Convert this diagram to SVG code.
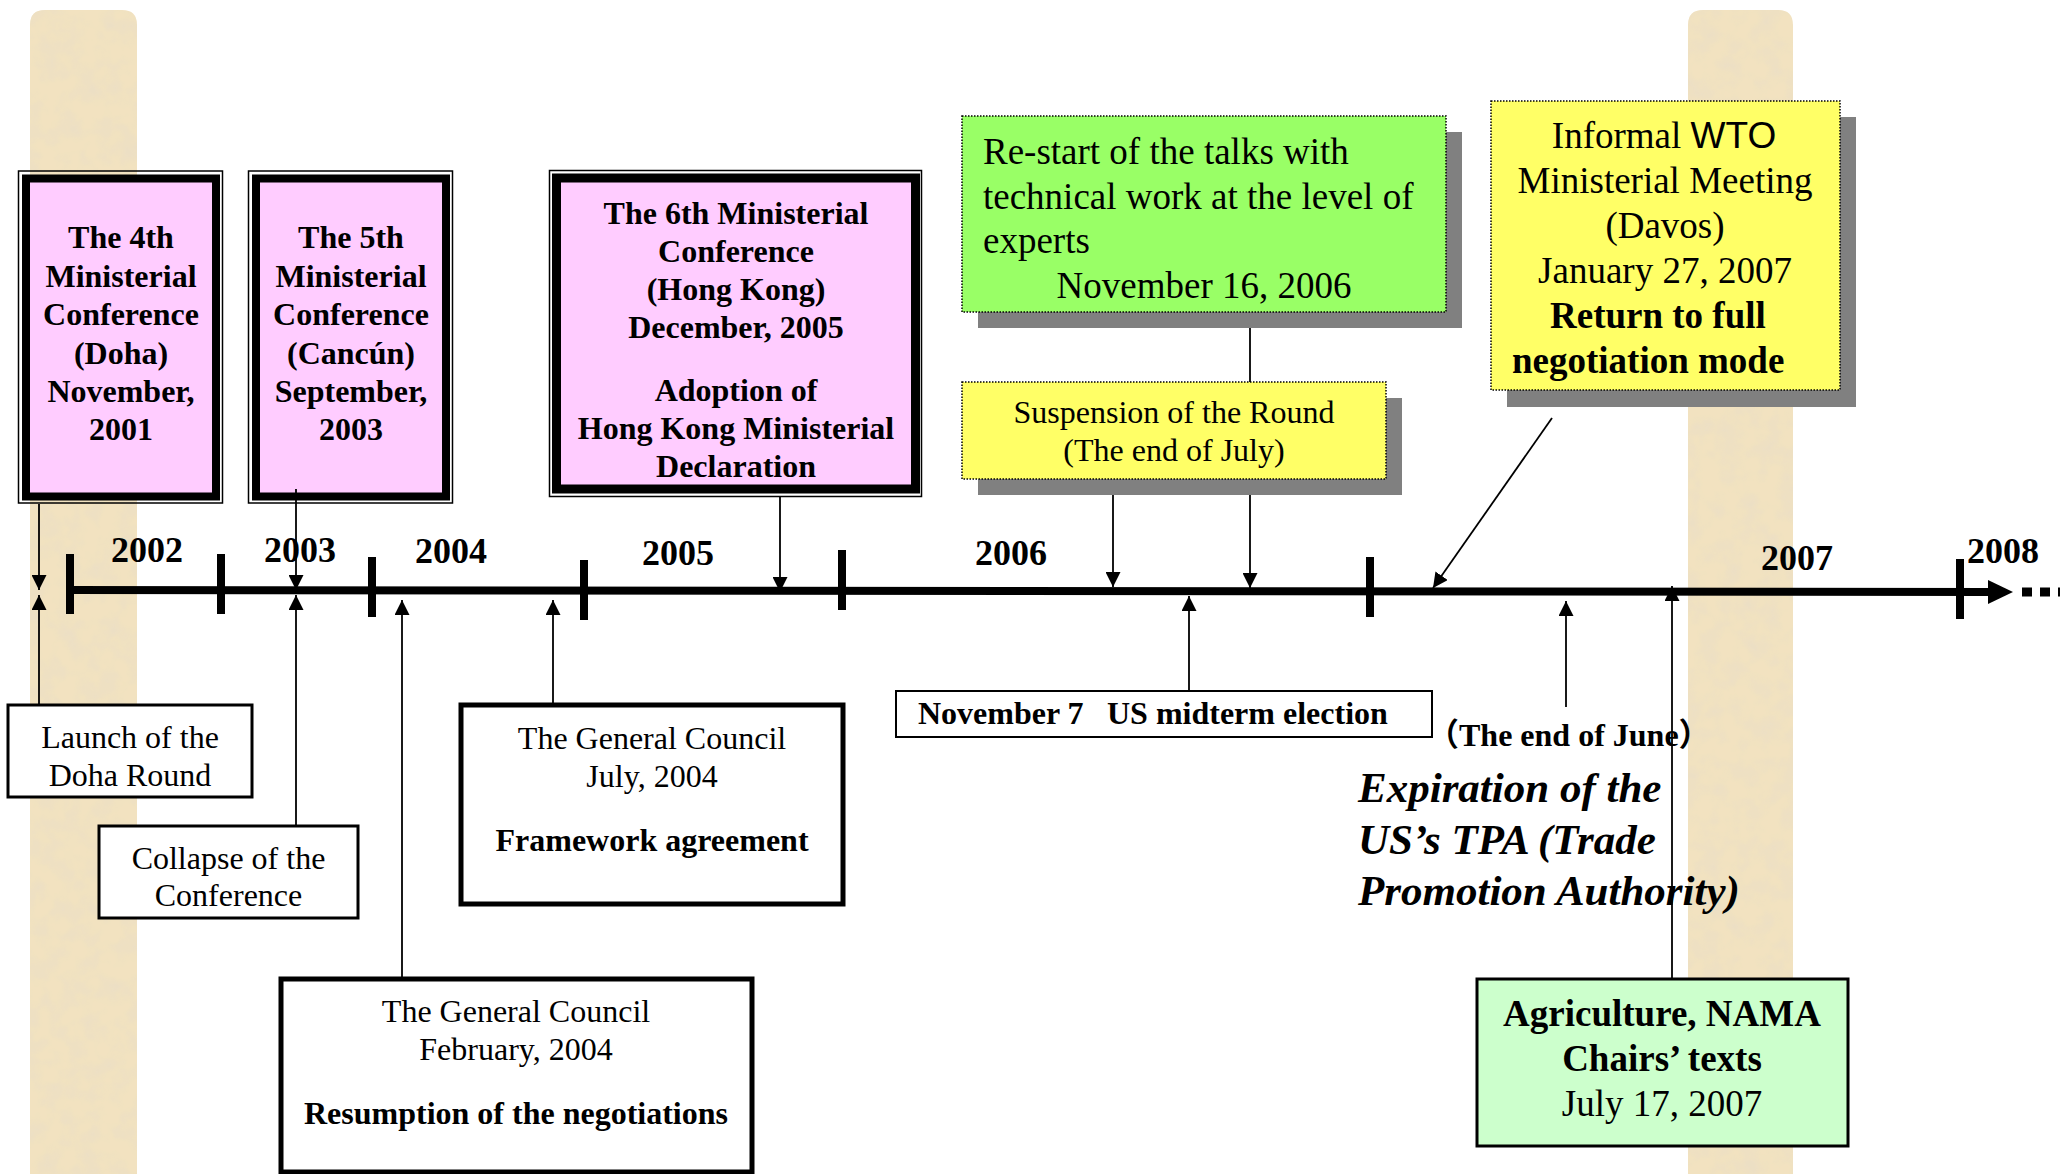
<svg xmlns="http://www.w3.org/2000/svg" width="2060" height="1174" viewBox="0 0 2060 1174">
<defs>
<style>
.serif{font-family:"Liberation Serif","Times New Roman",serif;fill:#000}
.sans{font-family:"Liberation Sans",Arial,sans-serif}
.b{font-weight:bold}
.mid{text-anchor:middle}
.f32{font-size:32px}
.f36{font-size:36px}
.f37{font-size:37px}
.f43{font-size:43px}
.pinkfill{fill:#FFCCFF;stroke:#000;stroke-width:8}
.thin{fill:none;stroke:#000;stroke-width:1.5}
.dotted{stroke:#000;stroke-width:1.5;stroke-dasharray:1.5 1.5}
.shadow{fill:#808080}
.wbox{fill:#fff;stroke:#000}
.conn{stroke:#000;stroke-width:1.8;fill:none}
.tick{stroke:#000;stroke-width:8}
</style>
<marker id="ah" viewBox="0 0 10 10" refX="10" refY="5" markerWidth="15" markerHeight="15" markerUnits="userSpaceOnUse" orient="auto">
<path d="M0,0 L10,5 L0,10 z" fill="#000"/>
</marker>
<filter id="paper" x="0" y="0" width="100%" height="100%">
<feTurbulence type="fractalNoise" baseFrequency="0.05" numOctaves="3" seed="7" result="n"/>
<feColorMatrix in="n" type="matrix" values="0 0 0 0 0.84  0 0 0 0 0.74  0 0 0 0 0.55  0 0 0 2.2 -0.85" result="c"/>
<feComposite in="c" in2="SourceGraphic" operator="in" result="t"/>
<feMerge><feMergeNode in="SourceGraphic"/><feMergeNode in="t"/></feMerge>
</filter>
</defs>
<rect x="0" y="0" width="2060" height="1174" fill="#fff"/>
<g id="columns">
<path d="M30,1174 V25 Q30,10 45,10 H122 Q137,10 137,25 V1174 Z" fill="#F2E2C0" filter="url(#paper)"/>
<path d="M1688,1174 V25 Q1688,10 1703,10 H1778 Q1793,10 1793,25 V1174 Z" fill="#F2E2C0" filter="url(#paper)"/>
</g>
<g id="timeline">
<line x1="70" y1="590" x2="1992" y2="592" stroke="#000" stroke-width="8"/>
<polygon points="1988,580 2013,592 1988,604" fill="#000"/>
<line x1="2022" y1="592" x2="2060" y2="592" stroke="#000" stroke-width="9" stroke-dasharray="10 8"/>
<line class="tick" x1="70" y1="554" x2="70" y2="614"/>
<line class="tick" x1="221" y1="554" x2="221" y2="614"/>
<line class="tick" x1="372" y1="557" x2="372" y2="617"/>
<line class="tick" x1="584" y1="560" x2="584" y2="620"/>
<line class="tick" x1="842" y1="550" x2="842" y2="610"/>
<line class="tick" x1="1370" y1="557" x2="1370" y2="617"/>
<line class="tick" x1="1960" y1="559" x2="1960" y2="619"/>
<text class="serif b f36 mid" x="147" y="562">2002</text>
<text class="serif b f36 mid" x="300" y="562">2003</text>
<text class="serif b f36 mid" x="451" y="563">2004</text>
<text class="serif b f36 mid" x="678" y="565">2005</text>
<text class="serif b f36 mid" x="1011" y="565">2006</text>
<text class="serif b f36 mid" x="1797" y="570">2007</text>
<text class="serif b f36 mid" x="2003" y="563">2008</text>
</g>
<g id="mc4">
<rect class="thin" x="18.5" y="171" width="204" height="332"/>
<rect class="pinkfill" x="26" y="178.5" width="190" height="318"/>
<text class="serif b f32 mid" x="121"><tspan x="121" y="248">The 4th</tspan><tspan x="121" y="286.5">Ministerial</tspan><tspan x="121" y="325">Conference</tspan><tspan x="121" y="363.5">(Doha)</tspan><tspan x="121" y="402">November,</tspan><tspan x="121" y="440">2001</tspan></text>
</g>
<g id="mc5">
<rect class="thin" x="248.5" y="171" width="204" height="332"/>
<rect class="pinkfill" x="256" y="178.5" width="190" height="318"/>
<text class="serif b f32 mid" x="351"><tspan x="351" y="248">The 5th</tspan><tspan x="351" y="286.5">Ministerial</tspan><tspan x="351" y="325">Conference</tspan><tspan x="351" y="363.5">(Cancún)</tspan><tspan x="351" y="402">September,</tspan><tspan x="351" y="440">2003</tspan></text>
</g>
<g id="mc6">
<rect class="thin" x="549.5" y="170.5" width="372" height="326"/>
<rect class="pinkfill" x="556.5" y="178" width="359" height="311" style="stroke-width:9"/>
<text class="serif b f32 mid" x="736"><tspan x="736" y="224">The 6th Ministerial</tspan><tspan x="736" y="262">Conference</tspan><tspan x="736" y="300">(Hong Kong)</tspan><tspan x="736" y="338">December, 2005</tspan><tspan x="736" y="401">Adoption of</tspan><tspan x="736" y="439">Hong Kong Ministerial</tspan><tspan x="736" y="477">Declaration</tspan></text>
</g>
<g id="restart">
<rect class="shadow" x="978" y="132" width="484" height="196"/>
<rect class="dotted" x="962" y="116" width="484" height="196" fill="#99FF66"/>
<text class="serif f37"><tspan x="983" y="164">Re-start of the talks with</tspan><tspan x="983" y="209">technical work at the level of</tspan><tspan x="983" y="253">experts</tspan><tspan x="1204" y="298" text-anchor="middle">November 16, 2006</tspan></text>
</g>
<g id="suspension">
<rect class="shadow" x="978" y="398" width="424" height="97"/>
<rect class="dotted" x="962" y="382" width="424" height="97" fill="#FFFF66"/>
<text class="serif f32 mid"><tspan x="1174" y="423">Suspension of the Round</tspan><tspan x="1174" y="461">(The end of July)</tspan></text>
</g>
<g id="davos">
<rect class="shadow" x="1507" y="117" width="349" height="290"/>
<rect class="dotted" x="1491" y="101" width="349" height="289" fill="#FFFF66"/>
<text class="serif f37 mid" x="1664" y="148">Informal <tspan class="sans">WTO</tspan></text>
<text class="serif f37 mid"><tspan x="1665" y="193">Ministerial Meeting</tspan><tspan x="1665" y="238">(Davos)</tspan><tspan x="1665" y="283">January 27, 2007</tspan></text>
<text class="serif b f37"><tspan x="1550" y="328">Return to full</tspan><tspan x="1512" y="373">negotiation mode</tspan></text>
</g>
<g id="launch">
<rect class="wbox" x="8" y="705" width="244" height="92" stroke-width="3"/>
<text class="serif f32 mid"><tspan x="130" y="748">Launch of the</tspan><tspan x="130" y="786">Doha Round</tspan></text>
</g>
<g id="collapse">
<rect class="wbox" x="99" y="826" width="259" height="92" stroke-width="3"/>
<text class="serif f32 mid"><tspan x="228.5" y="869">Collapse of the</tspan><tspan x="228.5" y="906">Conference</tspan></text>
</g>
<g id="gc-july">
<rect class="wbox" x="461" y="705" width="382" height="199" stroke-width="5"/>
<text class="serif f32 mid"><tspan x="652" y="749">The General Council</tspan><tspan x="652" y="787">July, 2004</tspan><tspan x="652" y="851" font-weight="bold">Framework agreement</tspan></text>
</g>
<g id="gc-feb">
<rect class="wbox" x="281" y="979" width="471" height="193" stroke-width="5"/>
<text class="serif f32 mid"><tspan x="516" y="1022">The General Council</tspan><tspan x="516" y="1060">February, 2004</tspan><tspan x="516" y="1124" font-weight="bold">Resumption of the negotiations</tspan></text>
</g>
<g id="midterm">
<rect class="wbox" x="896" y="691" width="536" height="46" stroke-width="2"/>
<text class="serif b f32"><tspan x="918" y="724">November 7</tspan><tspan x="1107" y="724">US midterm election</tspan></text>
</g>
<g id="tpa">
<text class="b f32" x="1427" y="746" style="font-family:'Liberation Serif','Noto Sans CJK JP',serif">（The end of June）</text>
<text class="serif b f43" font-style="italic"><tspan x="1358" y="802">Expiration of the</tspan><tspan x="1358" y="854">US’s TPA (Trade</tspan><tspan x="1358" y="905">Promotion Authority)</tspan></text>
</g>
<g id="chairs">
<rect x="1477" y="979" width="371" height="167" fill="#CCFFCC" stroke="#000" stroke-width="3"/>
<text class="serif f37 mid"><tspan x="1662" y="1026" font-weight="bold">Agriculture, NAMA</tspan><tspan x="1662" y="1071" font-weight="bold">Chairs’ texts</tspan><tspan x="1662" y="1116">July 17, 2007</tspan></text>
</g>
<g id="connectors">
<line class="conn" x1="39" y1="504" x2="39" y2="590" marker-end="url(#ah)"/>
<line class="conn" x1="39" y1="705" x2="39" y2="595" marker-end="url(#ah)"/>
<line class="conn" x1="296" y1="489" x2="296" y2="590" marker-end="url(#ah)"/>
<line class="conn" x1="296" y1="826" x2="296" y2="595" marker-end="url(#ah)"/>
<line class="conn" x1="402" y1="979" x2="402" y2="600" marker-end="url(#ah)"/>
<line class="conn" x1="553" y1="705" x2="553" y2="600" marker-end="url(#ah)"/>
<line class="conn" x1="780" y1="497" x2="780" y2="592" marker-end="url(#ah)"/>
<line class="conn" x1="1250" y1="328" x2="1250" y2="382"/>
<line class="conn" x1="1113" y1="495" x2="1113" y2="587" marker-end="url(#ah)"/>
<line class="conn" x1="1250" y1="495" x2="1250" y2="588" marker-end="url(#ah)"/>
<line class="conn" x1="1189" y1="691" x2="1189" y2="596" marker-end="url(#ah)"/>
<line class="conn" x1="1552" y1="418" x2="1433" y2="588" marker-end="url(#ah)"/>
<line class="conn" x1="1566" y1="707" x2="1566" y2="601" marker-end="url(#ah)"/>
<line class="conn" x1="1672" y1="979" x2="1672" y2="586" marker-end="url(#ah)"/>
</g>
</svg>
